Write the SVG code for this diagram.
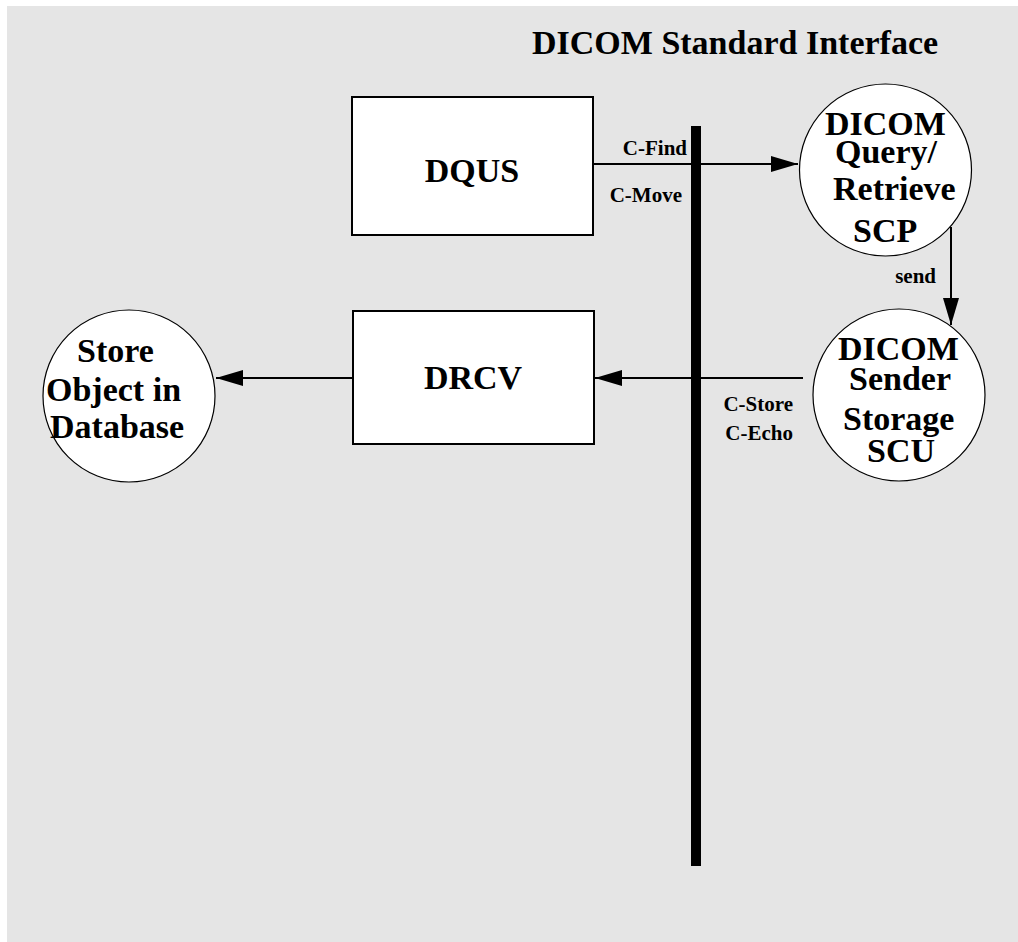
<svg xmlns="http://www.w3.org/2000/svg" width="1018" height="942" viewBox="0 0 1018 942">
<style>
text{font-family:"Liberation Serif","Times New Roman",serif;font-weight:bold;fill:#000}
.big{font-size:34px}
.lbl{font-size:21px}
.box{fill:#fff;stroke:#000;stroke-width:2}
.circ{fill:#fff;stroke:#000;stroke-width:1.2}
.conn{stroke:#000;stroke-width:2;fill:none}
</style>
<defs>
<marker id="ah" markerWidth="27" markerHeight="16" refX="27" refY="8" orient="auto" markerUnits="userSpaceOnUse">
<path d="M0,0 L27,8 L0,16 Z" fill="#000"/>
</marker>
</defs>
<rect x="7" y="6" width="1011" height="936" fill="#e5e5e5"/>
<text class="big" x="532" y="54" font-size="33">DICOM Standard Interface</text>
<g id="connectors">
<line class="conn" x1="593" y1="164" x2="798" y2="164" marker-end="url(#ah)"/>
<line class="conn" x1="951" y1="227" x2="951" y2="325" marker-end="url(#ah)"/>
<line class="conn" x1="803" y1="378" x2="595" y2="378" marker-end="url(#ah)"/>
<line class="conn" x1="352" y1="378" x2="216" y2="378" marker-end="url(#ah)"/>
<text class="lbl" x="687" y="155" text-anchor="end">C-Find</text>
<text class="lbl" x="682" y="202" text-anchor="end">C-Move</text>
<text class="lbl" x="936" y="283" text-anchor="end">send</text>
<text class="lbl" x="793" y="411" text-anchor="end">C-Store</text>
<text class="lbl" x="793" y="440" text-anchor="end">C-Echo</text>
</g>
<g id="interface-bar">
<rect x="691" y="126" width="10" height="740" fill="#000"/>
</g>
<g id="dqus">
<rect class="box" x="352" y="97" width="241" height="138"/>
<text class="big" x="472" y="182" text-anchor="middle">DQUS</text>
</g>
<g id="drcv">
<rect class="box" x="353" y="311" width="241" height="133"/>
<text class="big" x="473" y="389" text-anchor="middle">DRCV</text>
</g>
<g id="qr-scp">
<circle class="circ" cx="885.5" cy="170" r="86"/>
<text class="big"><tspan x="825" y="135">DICOM</tspan><tspan x="835" y="163">Query/</tspan><tspan x="833" y="200">Retrieve</tspan><tspan x="853" y="242">SCP</tspan></text>
</g>
<g id="sender-scu">
<circle class="circ" cx="899" cy="395" r="86"/>
<text class="big"><tspan x="838" y="360">DICOM</tspan><tspan x="849" y="390">Sender</tspan><tspan x="843" y="430">Storage</tspan><tspan x="867" y="462">SCU</tspan></text>
</g>
<g id="store-db">
<circle class="circ" cx="129" cy="396" r="86"/>
<text class="big"><tspan x="77" y="362">Store</tspan><tspan x="46" y="401">Object in</tspan><tspan x="50" y="438">Database</tspan></text>
</g>
</svg>
